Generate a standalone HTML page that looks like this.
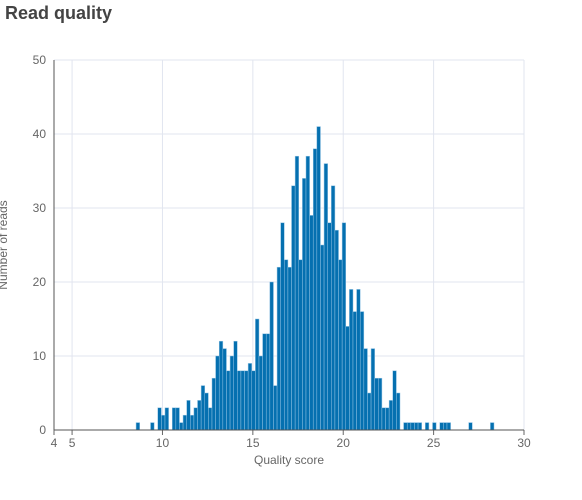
<!DOCTYPE html>
<html><head><meta charset="utf-8">
<style>
body{margin:0;background:#fff;width:582px;height:500px;overflow:hidden;font-family:"Liberation Sans",sans-serif;}
svg{position:absolute;left:0;top:0}
</style></head>
<body>
<svg width="582" height="500" id="chart">
<text x="5" y="19" font-size="18" font-weight="bold" fill="#444">Read quality</text>
<g id="grid"></g><g id="bars"></g><g id="axes"></g>
<text x="289" y="464" font-size="12" fill="#666" text-anchor="middle">Quality score</text>
<text transform="translate(7,245) rotate(-90)" font-size="12" fill="#666" text-anchor="middle">Number of reads</text>
</svg>
<script>
const binStart = 8.54;
const binWidth = 0.2;
const counts = [1,0,0,0,1,0,3,2,3,0,3,3,1,2,4,2,3,4,6,5,3,7,10,12,11,8,10,12,8,8,8,9,8,
15,10,13,13,20,6,22,28,23,22,33,37,23,34,37,29,38,41,25,36,28,33,27,23,28,14,19,16,19,16,11,5,11,7,7,3,3,4,8,5,
0,1,1,1,1,1,0,1,0,1,0,1,1,1,0,0,0,0,0,1,0,0,0,0,0,1];
const xTicks = [4,5,10,15,20,25,30];
const yTicks = [0,10,20,30,40,50];
const NS="http://www.w3.org/2000/svg";
const X0=54,X1=524,Y0=430,Y1=60,xmin=4,xmax=30,ymax=50;
const sx=v=>X0+(v-xmin)/(xmax-xmin)*(X1-X0);
const sy=v=>Y0-v/ymax*(Y0-Y1);
function mk(tag,attrs,parent){const e=document.createElementNS(NS,tag);for(const k in attrs)e.setAttribute(k,attrs[k]);parent.appendChild(e);return e;}
const grid=document.getElementById('grid'),bars=document.getElementById('bars'),axes=document.getElementById('axes');
xTicks.forEach(t=>{
  if(t!==xmin){const l=mk('line',{x1:sx(t),x2:sx(t),y1:Y1,y2:Y0,stroke:'#e1e5ef','stroke-width':1},grid);
  
  }
  const tk=mk('line',{x1:sx(t),x2:sx(t),y1:Y0,y2:Y0+5,stroke:'#666'},axes);
  
  
  const tx=mk('text',{x:sx(t),y:Y0+17,'font-size':12,fill:'#666','text-anchor':'middle'},axes);
  tx.textContent=t;
  
  
});
yTicks.forEach(t=>{
  if(t!==0){const l=mk('line',{x1:X0,x2:X1,y1:sy(t),y2:sy(t),stroke:'#e1e5ef'},grid);
  
  }
  const tx=mk('text',{x:X0-8,y:sy(t)+4,'font-size':12,fill:'#666','text-anchor':'end'},axes);
  tx.textContent=t;
  
  
});
const bw=binWidth/(xmax-xmin)*(X1-X0);
counts.forEach((c,i)=>{
  if(c<=0)return;
  const x=sx(binStart+i*binWidth);
  const r=mk('rect',{x:x,y:sy(c),width:bw,height:Y0-sy(c),fill:'#0570b0',stroke:'#8fc1e3','stroke-width':0.5},bars);
  
  
});
const xa=mk('line',{x1:X0,x2:X1,y1:Y0,y2:Y0,stroke:'#555'},axes);


const ya=mk('line',{x1:X0,x2:X0,y1:Y1,y2:Y0,stroke:'#555'},axes);


</script>
</body></html>
